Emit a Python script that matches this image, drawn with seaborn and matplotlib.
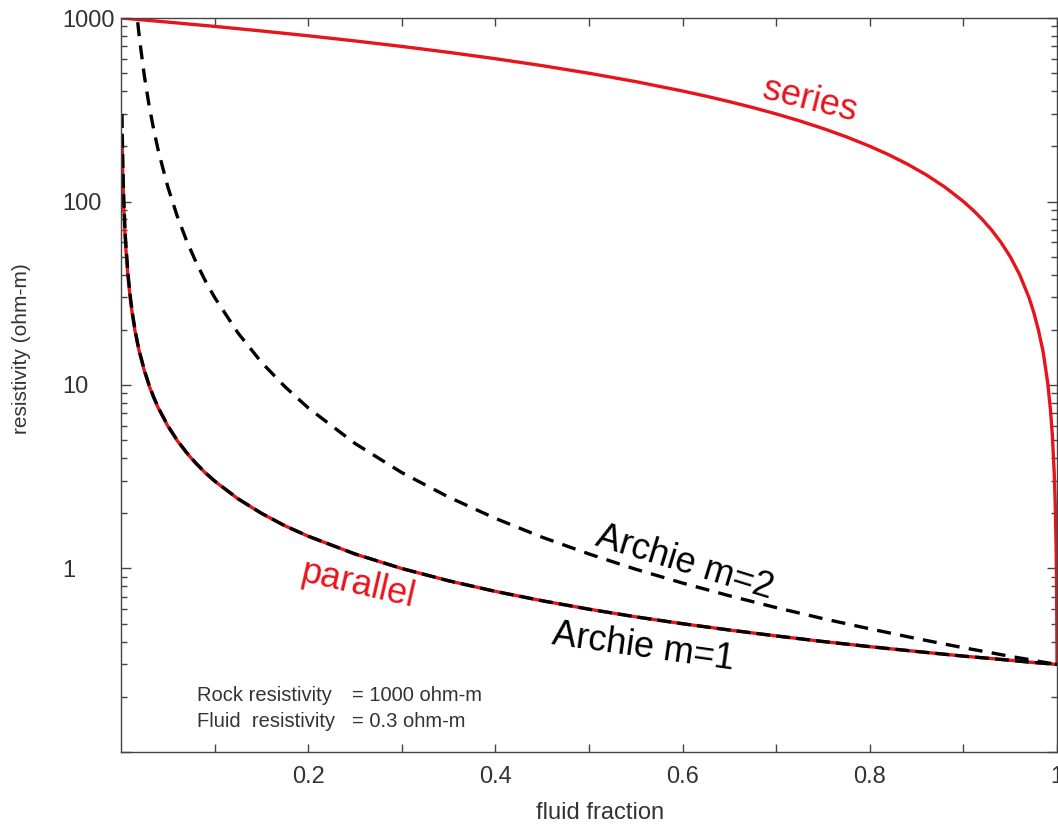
import matplotlib
matplotlib.use("Agg")
import matplotlib.pyplot as plt
import matplotlib.ticker as mticker
import seaborn as sns

# fluid fraction samples and resistivity (ohm-m)
frac = [0.001, 0.002, 0.003, 0.004, 0.005, 0.0075, 0.01, 0.0125, 0.015, 0.0175,
        0.02, 0.025, 0.03, 0.035, 0.04, 0.05, 0.06, 0.07, 0.08, 0.09,
        0.1, 0.125, 0.15, 0.175, 0.2, 0.25, 0.3, 0.35, 0.4, 0.45,
        0.5, 0.55, 0.6, 0.65, 0.7, 0.75, 0.8, 0.85, 0.9, 0.93,
        0.95, 0.97, 0.98, 0.99, 0.995, 0.998, 0.999, 1.0]

parallel = [231, 130, 91, 69.8, 56.6, 38.5, 29.1, 23.4, 19.6, 16.9,
            14.8, 11.9, 9.9, 8.5, 7.45, 5.97, 4.98, 4.27, 3.74, 3.32,
            2.99, 2.395, 1.997, 1.71, 1.498, 1.199, 0.999, 0.857, 0.75, 0.667,
            0.6, 0.545, 0.5, 0.462, 0.429, 0.4, 0.375, 0.353, 0.333, 0.323,
            0.316, 0.309, 0.306, 0.303, 0.3015, 0.3006, 0.3003, 0.3]

archie_m1 = [300, 150, 100, 75, 60, 40, 30, 24, 20, 17.1,
             15, 12, 10, 8.57, 7.5, 6, 5, 4.29, 3.75, 3.33,
             3, 2.4, 2, 1.71, 1.5, 1.2, 1.0, 0.857, 0.75, 0.667,
             0.6, 0.545, 0.5, 0.462, 0.429, 0.4, 0.375, 0.353, 0.333, 0.323,
             0.316, 0.309, 0.306, 0.303, 0.3015, 0.3006, 0.3003, 0.3]

archie_m2 = [300000, 75000, 33333, 18750, 12000, 5333, 3000, 1920, 1333, 980,
             750, 480, 333, 245, 187.5, 120, 83.3, 61.2, 46.9, 37,
             30, 19.2, 13.3, 9.8, 7.5, 4.8, 3.33, 2.45, 1.875, 1.48,
             1.2, 0.99, 0.833, 0.71, 0.612, 0.533, 0.469, 0.415, 0.370, 0.347,
             0.332, 0.319, 0.312, 0.306, 0.303, 0.3012, 0.3006, 0.3]

# the series curve bends sharply near 1, so it has its own denser samples
series_frac = [0, 0.05, 0.1, 0.15, 0.2, 0.25, 0.3, 0.35, 0.4, 0.45,
               0.5, 0.55, 0.6, 0.625, 0.65, 0.675, 0.7, 0.725, 0.75, 0.775,
               0.8, 0.82, 0.84, 0.86, 0.88, 0.9, 0.91, 0.92, 0.93, 0.94,
               0.95, 0.96, 0.97, 0.975, 0.98, 0.985, 0.99, 0.993, 0.995, 0.997,
               0.998, 0.999, 0.9995, 1.0]
series = [1000, 950, 900, 850, 800, 750, 700, 650, 600, 550,
          500, 450, 400, 375, 350, 325, 300, 275, 250, 225,
          200, 180, 160, 140, 120, 100, 90, 80, 70, 60,
          50, 40, 30, 25, 20, 15.3, 10.3, 7.3, 5.3, 3.3,
          2.3, 1.3, 0.8, 0.3]

x_ticks = [0.2, 0.4, 0.6, 0.8, 1.0]
x_ticklabels = ['0.2', '0.4', '0.6', '0.8', '1']
y_ticks = [0.1, 1, 10, 100, 1000]
y_ticklabels = ['', '1', '10', '100', '1000']

sns.set_style("ticks")
plt.rcParams['font.family'] = ['Liberation Sans', 'DejaVu Sans']

red = '#e8141c'
grey = '#444444'

fig = plt.figure(figsize=(10.58, 8.26), dpi=100)
ax = fig.add_axes([0.1144, 0.0896, 0.8847, 0.8886])

lw = 2.4
sns.lineplot(x=series_frac, y=series, ax=ax, color=red, linewidth=lw, errorbar=None)
sns.lineplot(x=frac, y=parallel, ax=ax, color=red, linewidth=lw, errorbar=None)
sns.lineplot(x=frac, y=archie_m1, ax=ax, color='black', linewidth=lw,
             linestyle=(0, (4.2, 1.8)), errorbar=None)
sns.lineplot(x=frac, y=archie_m2, ax=ax, color='black', linewidth=lw,
             linestyle=(0, (4.2, 2.8)), errorbar=None)

ax.set_yscale('log')
ax.set_xlim(0, 1)
ax.set_ylim(0.1, 1000)

ax.xaxis.set_major_locator(mticker.FixedLocator(x_ticks))
ax.xaxis.set_major_formatter(mticker.FixedFormatter(x_ticklabels))
ax.xaxis.set_minor_locator(mticker.FixedLocator([0.1, 0.3, 0.5, 0.7, 0.9]))
ax.yaxis.set_major_locator(mticker.FixedLocator(y_ticks))
ax.yaxis.set_major_formatter(mticker.FixedFormatter(y_ticklabels))
ax.yaxis.set_minor_locator(mticker.LogLocator(base=10, subs=range(2, 10), numticks=20))
ax.yaxis.set_minor_formatter(mticker.NullFormatter())

ax.tick_params(axis='both', which='both', direction='in', top=True, right=True,
               color=grey, width=1.0, labelcolor='#333333', labelsize=17)
ax.tick_params(axis='x', which='both', length=5.8, pad=10)
ax.tick_params(axis='y', which='major', length=7.2, pad=42.5)
ax.tick_params(axis='y', which='minor', length=4.3)
for lbl in ax.get_yticklabels():
    lbl.set_horizontalalignment('left')

for sp in ax.spines.values():
    sp.set_visible(True)
    sp.set_color(grey)
    sp.set_linewidth(1.0)

ax.set_xlabel('fluid fraction', fontsize=17, color='#333333')
ax.set_ylabel('resistivity (ohm-m)', fontsize=15, color='#333333')
ax.xaxis.set_label_coords(0.512, -0.068)
ax.yaxis.set_label_coords(-0.096, 0.55)

# curve labels
ax.text(0.736, 0.888, 'series', transform=ax.transAxes, color=red, fontsize=26,
        rotation=-14, ha='center', va='center', rotation_mode='anchor')
ax.text(0.253, 0.2275, 'parallel', transform=ax.transAxes, color=red, fontsize=26,
        rotation=-13, ha='center', va='center', rotation_mode='anchor')
ax.text(0.6026, 0.2575, 'Archie m=2', transform=ax.transAxes, color='black', fontsize=26,
        rotation=-17, ha='center', va='center', rotation_mode='anchor')
ax.text(0.5577, 0.143, 'Archie m=1', transform=ax.transAxes, color='black', fontsize=26,
        rotation=-8, ha='center', va='center', rotation_mode='anchor')

# parameter note
ax.text(0.081, 0.0763, 'Rock resistivity', transform=ax.transAxes, fontsize=14.5,
        color='#333333', ha='left', va='center')
ax.text(0.247, 0.0763, '= 1000 ohm-m', transform=ax.transAxes, fontsize=14.5,
        color='#333333', ha='left', va='center')
ax.text(0.081, 0.041, 'Fluid  resistivity', transform=ax.transAxes, fontsize=14.5,
        color='#333333', ha='left', va='center')
ax.text(0.247, 0.041, '= 0.3 ohm-m', transform=ax.transAxes, fontsize=14.5,
        color='#333333', ha='left', va='center')

fig.savefig('out.png', dpi=100)
